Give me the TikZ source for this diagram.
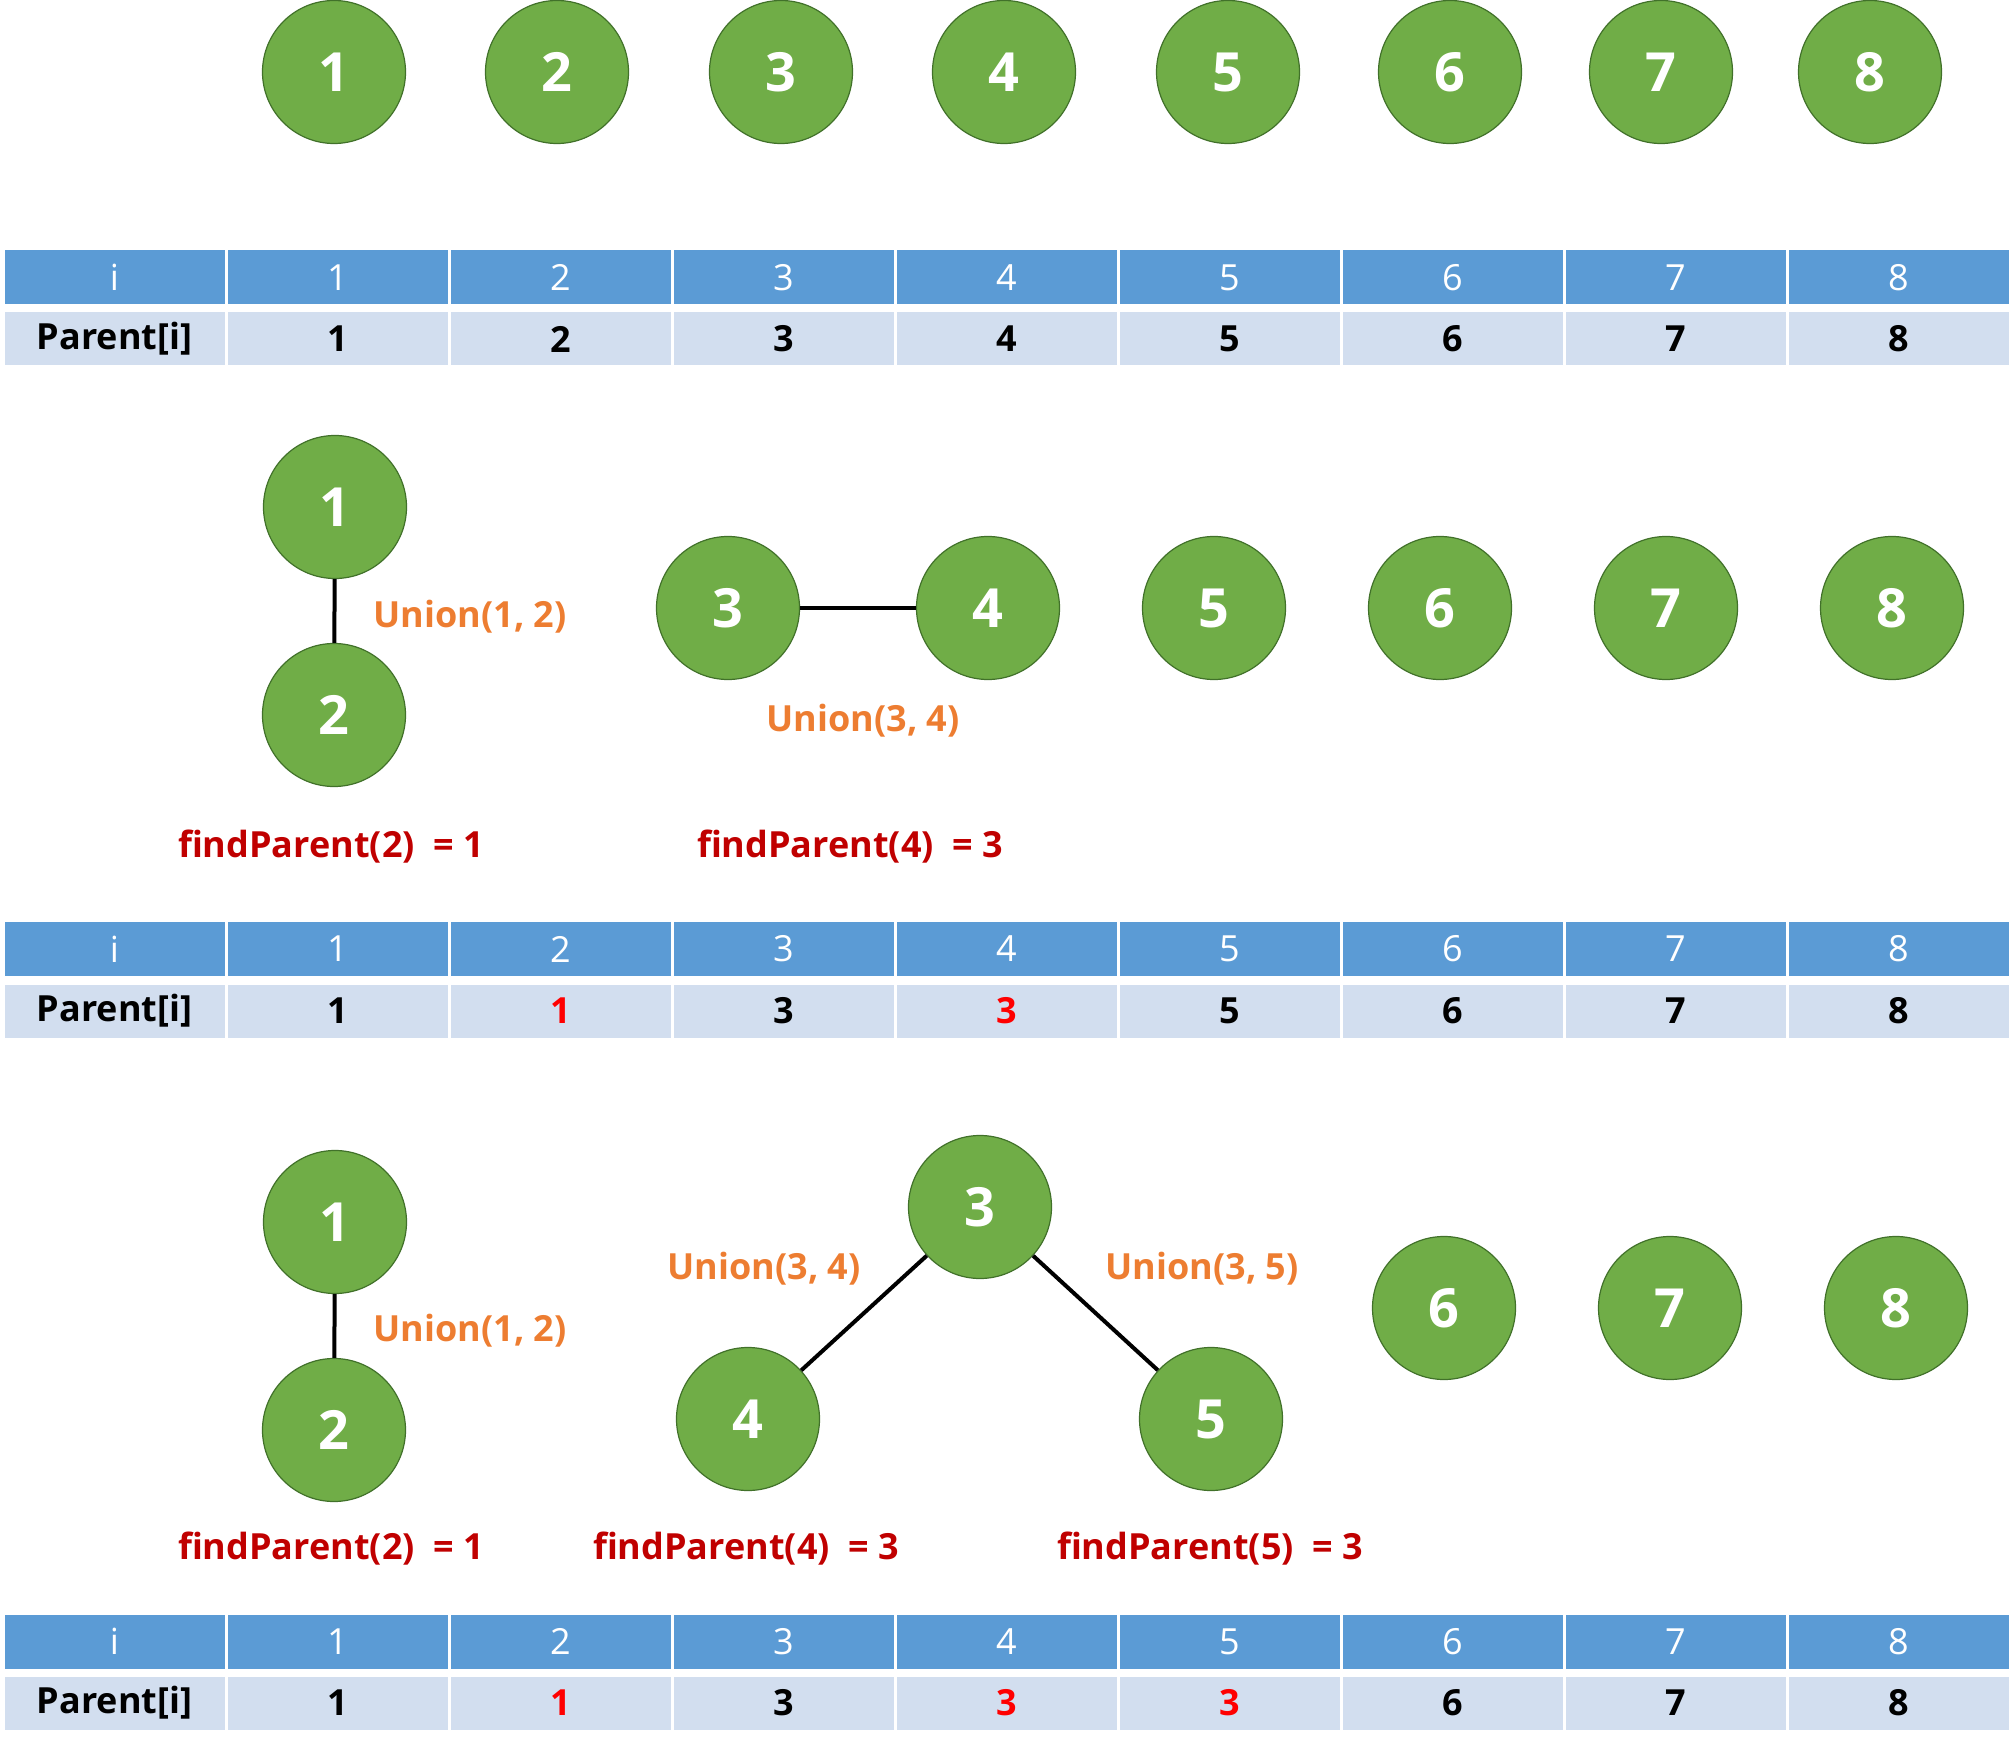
\documentclass[tikz,border=0pt]{standalone}
\usepackage{fontspec}
\setmainfont{Open Sans}[BoldFont={Open Sans Bold}]
\usepackage{xcolor}
\usetikzlibrary{arrows.meta,positioning}
\definecolor{vfill}{HTML}{70AD47}
\definecolor{vline}{HTML}{41712A}
\definecolor{hblue}{HTML}{5B9BD5}
\definecolor{rowblue}{HTML}{D2DEEF}
\definecolor{uorange}{HTML}{ED7D31}
\definecolor{fred}{HTML}{C00000}
\newcommand{\chg}[1]{\textcolor{red}{#1}}
\tikzset{
  vertex/.style={circle,fill=vfill,draw=vline,line width=0.6pt,minimum size=71.5pt,inner sep=0pt,
    text=white,font=\fontsize{27}{27}\selectfont\bfseries},
  hcell/.style={rectangle,fill=hblue,draw=white,line width=1.5pt,minimum width=111.5pt,
    minimum height=28.5pt,inner sep=0pt,text=white,font=\fontsize{18}{18}\selectfont},
  pcell/.style={hcell,fill=rowblue,minimum height=28pt,text=black,font=\fontsize{18}{18}\selectfont\bfseries},
  unionlbl/.style={text=uorange,font=\fontsize{18}{18}\selectfont\bfseries},
  findlbl/.style={text=fred,font=\fontsize{18}{18}\selectfont\bfseries},
  link/.style={line width=2pt}
}
\newcommand{\ptable}[4]{%
  \node[hcell] (#1h0) at (114.5,#2) {i};
  \node[pcell] (#1p0) at (114.5,#3) {Parent[i]};
  \foreach \v [count=\k] in {#4} {
    \node[hcell] (#1h\k) at ({114.5+223*\k},#2) {\k};
    \node[pcell] (#1p\k) at ({114.5+223*\k},#3) {\v};
  }%
}

\begin{document}
\begin{tikzpicture}[x=0.5pt,y=-0.5pt]
\useasboundingbox (0,0) rectangle (2014,1749);

\foreach \n/\x in {1/334,2/557,3/781,4/1004,5/1228,6/1450,7/1661,8/1870}
  \node[vertex] (a\n) at (\x,72) {\n};
\ptable{ta}{277.5}{339}{1,2,3,4,5,6,7,8}

\node[vertex] (b1) at (335,507) {1};
\node[vertex] (b2) at (334,715) {2};
\node[vertex] (b3) at (728,608) {3};
\node[vertex] (b4) at (988,608) {4};
\node[vertex] (b5) at (1214,608) {5};
\node[vertex] (b6) at (1440,608) {6};
\node[vertex] (b7) at (1666,608) {7};
\node[vertex] (b8) at (1892,608) {8};
\draw[link] (b1)--(b2);
\draw[link] (b3)--(b4);
\node[unionlbl] (bu12) at (470,617) {Union(1, 2)};
\node[unionlbl] (bu34) at (863,721) {Union(3, 4)};
\node[findlbl] (bf2) at (331,847) {findParent(2)\ \ = 1};
\node[findlbl] (bf4) at (850,847) {findParent(4)\ \ = 3};
\ptable{tb}{949}{1011}{1,\chg{1},3,\chg{3},5,6,7,8}

\node[vertex] (c1) at (335,1222) {1};
\node[vertex] (c2) at (334,1430) {2};
\node[vertex] (c3) at (980,1207) {3};
\node[vertex] (c4) at (748,1419) {4};
\node[vertex] (c5) at (1211,1419) {5};
\node[vertex] (c6) at (1444,1308) {6};
\node[vertex] (c7) at (1670,1308) {7};
\node[vertex] (c8) at (1896,1308) {8};
\draw[link] (c1)--(c2);
\draw[link] (c3)--(c4);
\draw[link] (c3)--(c5);
\node[unionlbl] (cu34) at (764,1269) {Union(3, 4)};
\node[unionlbl] (cu35) at (1202,1269) {Union(3, 5)};
\node[unionlbl] (cu12) at (470,1331) {Union(1, 2)};
\node[findlbl] (cf2) at (331,1549) {findParent(2)\ \ = 1};
\node[findlbl] (cf4) at (746,1549) {findParent(4)\ \ = 3};
\node[findlbl] (cf5) at (1210,1549) {findParent(5)\ \ = 3};
\ptable{tc}{1641.5}{1703}{1,\chg{1},3,\chg{3},\chg{3},6,7,8}
\end{tikzpicture}
\end{document}
